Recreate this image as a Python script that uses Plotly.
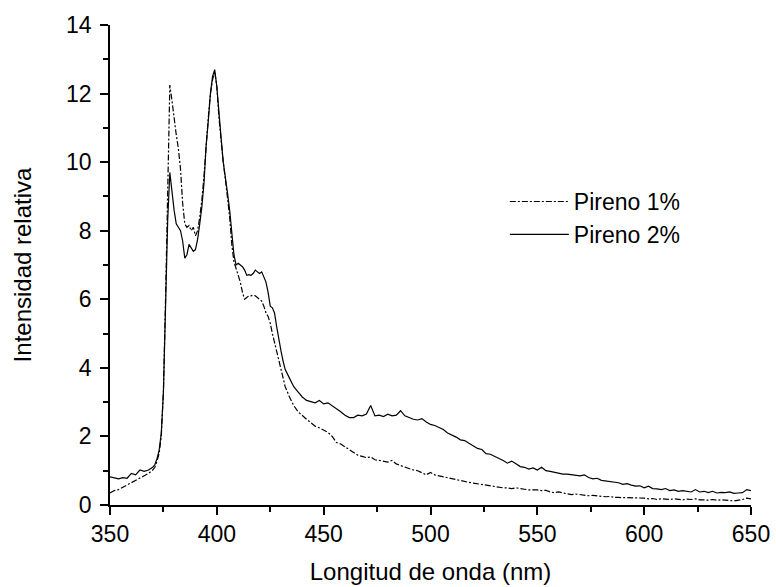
import plotly.graph_objects as go

wavelength = [350, 352, 354, 356, 358, 360, 362, 364, 366, 368, 370,
              371, 372, 373, 374, 375, 376, 377, 378, 379, 380,
              381, 382, 383, 384, 385, 386, 387, 388, 389, 390,
              391, 392, 393, 394, 395, 396, 397, 398, 399, 400,
              401, 402, 403, 404, 405, 406, 407, 408, 409, 410,
              411, 412, 413, 414, 415, 416, 417, 418, 419, 420,
              421, 422, 423, 424, 425, 426, 427, 428, 429, 430,
              431, 432,
              434, 436, 438, 440, 442, 444, 446, 448, 450,
              452, 454, 456, 458, 460, 462, 464, 466, 468, 470,
              472, 474, 476, 478, 480, 482, 484, 486, 488, 490,
              492, 494, 496, 498, 500, 502, 504, 506, 508, 510,
              512, 514, 516, 518, 520, 522, 524, 526, 528, 530,
              532, 534, 536, 538, 540, 542, 544, 546, 548, 550,
              552, 554, 556, 558, 560, 562, 564, 566, 568, 570,
              572, 574, 576, 578, 580, 582, 584, 586, 588, 590,
              592, 594, 596, 598, 600, 602, 604, 606, 608, 610,
              612, 614, 616, 618, 620, 622, 624, 626, 628, 630,
              632, 634, 636, 638, 640, 642, 644, 646, 648, 650]

pireno_1 = [0.35, 0.42, 0.45, 0.52, 0.58, 0.66, 0.72, 0.80, 0.86, 0.92, 1.02,
            1.10, 1.28, 1.50, 2.00, 3.30, 6.00, 9.50, 12.25, 11.80, 11.20,
            10.80, 10.40, 9.80, 8.80, 8.20, 8.10, 8.15, 8.00, 8.10, 7.85,
            8.00, 8.40, 8.90, 9.60, 10.60, 11.30, 12.00, 12.40, 12.65, 12.20,
            11.30, 10.60, 10.00, 9.50, 9.00, 8.40, 7.60, 7.10, 6.90, 6.70,
            6.50, 6.20, 6.00, 6.05, 6.10, 6.10, 6.12, 6.10, 6.05, 6.00,
            5.95, 5.80, 5.60, 5.50, 5.30, 5.00, 4.75, 4.50, 4.20, 3.95,
            3.70, 3.45,
            3.15, 2.90, 2.72, 2.60, 2.50, 2.40, 2.30, 2.25, 2.18,
            2.12, 2.00, 1.82, 1.78, 1.70, 1.60, 1.52, 1.45, 1.42, 1.38,
            1.40, 1.32, 1.30, 1.28, 1.25, 1.30, 1.20, 1.15, 1.10, 1.05,
            1.02, 1.00, 0.95, 0.88, 0.95, 0.88, 0.85, 0.82, 0.80, 0.77,
            0.75, 0.70, 0.68, 0.66, 0.64, 0.62, 0.60, 0.58, 0.55, 0.55,
            0.52, 0.50, 0.50, 0.48, 0.50, 0.47, 0.46, 0.44, 0.45, 0.44,
            0.42, 0.43, 0.38, 0.36, 0.38, 0.35, 0.33, 0.30, 0.32, 0.30,
            0.28, 0.27, 0.28, 0.26, 0.25, 0.24, 0.25, 0.22, 0.22, 0.22,
            0.20, 0.20, 0.22, 0.20, 0.20, 0.18, 0.19, 0.16, 0.18, 0.17,
            0.16, 0.18, 0.17, 0.15, 0.17, 0.16, 0.18, 0.15, 0.15, 0.14,
            0.16, 0.14, 0.15, 0.13, 0.13, 0.12, 0.13, 0.16, 0.20, 0.18]

pireno_2 = [0.82, 0.78, 0.76, 0.80, 0.78, 0.92, 0.88, 1.02, 0.98, 1.02, 1.10,
            1.18, 1.35, 1.60, 2.10, 3.30, 5.60, 8.30, 9.70, 9.10, 8.60,
            8.20, 8.10, 8.00, 7.70, 7.20, 7.30, 7.60, 7.50, 7.40, 7.45,
            7.75, 8.20, 8.70, 9.40, 10.50, 11.20, 12.00, 12.50, 12.70, 12.20,
            11.30, 10.70, 10.00, 9.60, 9.10, 8.60, 7.90, 7.30, 7.00, 7.05,
            7.00, 6.95, 6.85, 6.70, 6.72, 6.70, 6.75, 6.85, 6.80, 6.75,
            6.80, 6.65, 6.50, 6.20, 5.80, 5.75, 5.60, 5.20, 4.80, 4.50,
            4.20, 3.95,
            3.70, 3.45, 3.30, 3.15, 3.05, 3.02, 2.98, 3.05, 2.95,
            2.98, 2.90, 2.80, 2.72, 2.62, 2.55, 2.55, 2.62, 2.60, 2.65,
            2.90, 2.60, 2.62, 2.58, 2.65, 2.60, 2.62, 2.75, 2.60, 2.55,
            2.50, 2.48, 2.52, 2.42, 2.35, 2.32, 2.25, 2.20, 2.10, 2.05,
            1.98, 1.90, 1.88, 1.80, 1.72, 1.65, 1.62, 1.50, 1.48, 1.42,
            1.38, 1.30, 1.22, 1.28, 1.20, 1.12, 1.10, 1.05, 1.08, 1.02,
            1.10, 1.00, 0.98, 0.95, 0.93, 0.90, 0.90, 0.88, 0.87, 0.85,
            0.88, 0.80, 0.76, 0.78, 0.72, 0.70, 0.68, 0.66, 0.65, 0.60,
            0.62, 0.58, 0.55, 0.56, 0.50, 0.55, 0.48, 0.47, 0.45, 0.48,
            0.42, 0.44, 0.40, 0.42, 0.40, 0.38, 0.45, 0.38, 0.40, 0.36,
            0.40, 0.35, 0.37, 0.36, 0.38, 0.34, 0.35, 0.36, 0.45, 0.42]

x_ticks = [350, 400, 450, 500, 550, 600, 650]
y_ticks = [0, 2, 4, 6, 8, 10, 12, 14]

FONT = "Liberation Sans, Arial, sans-serif"

fig = go.Figure()
fig.add_trace(go.Scatter(x=wavelength, y=pireno_1, mode="lines", name="Pireno 1%",
                         line=dict(color="black", width=1.2, dash="6px,2px,2px,2px")))
fig.add_trace(go.Scatter(x=wavelength, y=pireno_2, mode="lines", name="Pireno 2%",
                         line=dict(color="black", width=1.2)))

axis_common = dict(showgrid=False, zeroline=False, showline=True, linecolor="black",
                   linewidth=1.6, ticks="outside", ticklen=8, tickwidth=1.6,
                   tickcolor="black", tickfont=dict(family=FONT, size=23, color="black"),
                   automargin=False)

fig.update_layout(
    width=776, height=587,
    margin=dict(l=110, r=25, t=25, b=82),
    paper_bgcolor="white", plot_bgcolor="white",
    font=dict(family=FONT, color="black"),
    showlegend=True,
    legend=dict(x=0.616, y=0.677, xanchor="left", yanchor="top",
                bgcolor="rgba(0,0,0,0)", font=dict(family=FONT, size=23, color="black"),
                itemwidth=59, tracegroupgap=0),
    xaxis=dict(range=[350, 650], tickvals=x_ticks,
               minor=dict(ticks="outside", ticklen=5, tickwidth=1.6, dtick=25, tick0=350,
                          tickcolor="black"),
               title=dict(text="Longitud de onda (nm)", font=dict(family=FONT, size=24),
                          standoff=17),
               **axis_common),
    yaxis=dict(range=[0, 14], tickvals=y_ticks, ticklabelstandoff=4,
               minor=dict(ticks="outside", ticklen=5, tickwidth=1.6, dtick=1, tick0=0,
                          tickcolor="black"),
               title=dict(text="Intensidad relativa", font=dict(family=FONT, size=24),
                          standoff=28),
               **axis_common),
)

fig.write_html("out.html")
